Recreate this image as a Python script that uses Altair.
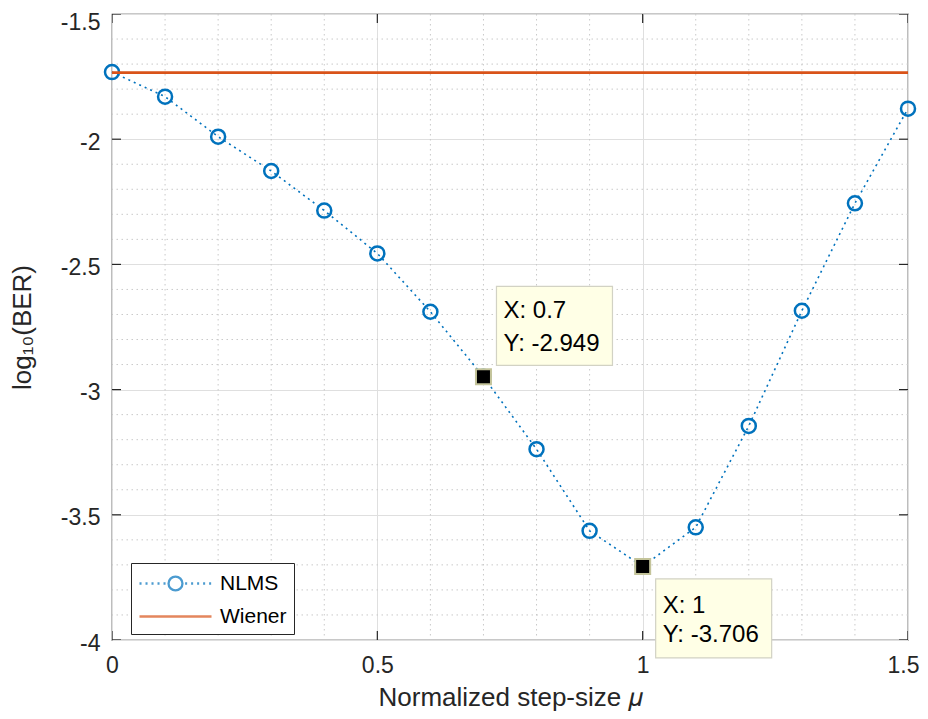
import altair as alt
import pandas as pd

# ---- data ----
mu = [0.0, 0.1, 0.2, 0.3, 0.4, 0.5, 0.6, 0.7, 0.8, 0.9, 1.0, 1.1, 1.2, 1.3, 1.4, 1.5]
nlms = [-1.732, -1.830, -1.990, -2.127, -2.285, -2.456, -2.689, -2.949,
        -3.238, -3.564, -3.706, -3.550, -3.145, -2.685, -2.256, -1.878]
wiener_x = [0.0, 1.5]
wiener_y = [-1.734, -1.734]
series_names = ["NLMS", "Wiener"]
series_colors = ["#0072BD", "#D95319"]

x_major = [0.0, 0.5, 1.0, 1.5]
y_major = [-1.5, -2.0, -2.5, -3.0, -3.5, -4.0]
x_minor = [0.1, 0.2, 0.3, 0.4, 0.6, 0.7, 0.8, 0.9, 1.1, 1.2, 1.3, 1.4]
y_minor = [-1.6, -1.7, -1.8, -1.9, -2.1, -2.2, -2.3, -2.4, -2.6, -2.7, -2.8, -2.9,
           -3.1, -3.2, -3.3, -3.4, -3.6, -3.7, -3.8, -3.9]

tip_x = [0.7, 1.0]
tip_y = [-2.949, -3.706]

FONT = "Liberation Sans"
X_DOM = [0, 1.5]
Y_DOM = [-4, -1.5]

nlms_df = pd.DataFrame({"x": mu, "y": nlms})
wiener_df = pd.DataFrame({"x": wiener_x, "y": wiener_y})
xminor_df = pd.DataFrame({"x": x_minor})
yminor_df = pd.DataFrame({"y": y_minor})
xt_df = pd.DataFrame({"x": x_major * 2, "y": [Y_DOM[0]] * 4 + [Y_DOM[1]] * 4})
yt_df = pd.DataFrame({"y": y_major * 2, "x": [X_DOM[0]] * 6 + [X_DOM[1]] * 6})
tips_df = pd.DataFrame({
    "x": tip_x, "y": tip_y,
    "lx": [f"X: {v:g}" for v in tip_x],
    "ly": [f"Y: {v:.3f}" for v in tip_y],
})
legend_df = pd.DataFrame({"series": series_names})

xs = alt.Scale(domain=X_DOM, nice=False, zero=False)
ys = alt.Scale(domain=Y_DOM, nice=False, zero=False)

X = alt.X("x:Q", scale=xs, title="Normalized step-size 𝜇",
          axis=alt.Axis(values=x_major, labelExpr="datum.value + ''", grid=True,
                        gridColor="#dfdfdf", gridWidth=1, ticks=False, domain=False,
                        labelFlush=False,
                        labelOffset=alt.condition("datum.value >= 1.5", alt.value(-5), alt.value(0)),
                        labelFont=FONT, labelFontSize=23, labelColor="#262626",
                        labelPadding=14, titleFont=FONT, titleFontSize=26,
                        titleFontWeight="normal", titleColor="#262626", titlePadding=7))
Y = alt.Y("y:Q", scale=ys, title="log₁₀(BER)",
          axis=alt.Axis(values=y_major, labelExpr="datum.value + ''", grid=True,
                        gridColor="#dfdfdf", gridWidth=1, ticks=False, domain=False,
                        labelFlush=False,
                        labelOffset=alt.condition("datum.value >= -1.5", alt.value(8), alt.value(3)),
                        labelFont=FONT, labelFontSize=23, labelColor="#262626",
                        labelPadding=12, titleFont=FONT, titleFontSize=26,
                        titleFontWeight="normal", titleColor="#262626", titlePadding=25))

base = alt.Chart(nlms_df)

minor_v = alt.Chart(xminor_df).mark_rule(color="#c9c9c9", strokeDash=[1.5, 3.5], strokeWidth=1).encode(
    x=alt.X("x:Q", scale=xs))
minor_h = alt.Chart(yminor_df).mark_rule(color="#c9c9c9", strokeDash=[1.5, 3.5], strokeWidth=1).encode(
    y=alt.Y("y:Q", scale=ys))

nlms_line = base.mark_line(color="#0072BD", strokeDash=[2, 4], strokeWidth=1.6).encode(x=X, y=Y)
nlms_pts = base.mark_point(shape="circle", filled=False, size=196, strokeWidth=2.5,
                           color="#0072BD", opacity=1).encode(x=X, y=Y)
wiener = alt.Chart(wiener_df).mark_line(color="#D95319", strokeWidth=2.6).encode(x=X, y=Y)

xticks = alt.Chart(xt_df).mark_tick(orient="vertical", size=18, thickness=1.2,
                                    color="#262626", clip=True, opacity=1).encode(
    x=alt.X("x:Q", scale=xs), y=alt.Y("y:Q", scale=ys))
yticks = alt.Chart(yt_df).mark_tick(orient="horizontal", size=18, thickness=1.2,
                                    color="#262626", clip=True, opacity=1).encode(
    x=alt.X("x:Q", scale=xs), y=alt.Y("y:Q", scale=ys))

tips = alt.Chart(tips_df)
tip_marker = tips.mark_point(shape="square", filled=True, fill="black", stroke="#c4c49a",
                             strokeWidth=2, size=225, opacity=1).encode(
    x=alt.X("x:Q", scale=xs), y=alt.Y("y:Q", scale=ys))

up = tips.transform_filter("datum.x < 0.85")
down = tips.transform_filter("datum.x > 0.85")
box_kw = dict(width=116, height=79, fill="#ffffe6", stroke="#d2d2c4", strokeWidth=1.2)
box_up = up.mark_rect(xOffset=71, yOffset=-51, **box_kw).encode(
    x=alt.X("x:Q", scale=xs), y=alt.Y("y:Q", scale=ys))
box_down = down.mark_rect(xOffset=71, yOffset=52, **box_kw).encode(
    x=alt.X("x:Q", scale=xs), y=alt.Y("y:Q", scale=ys))
txt_kw = dict(align="left", baseline="alphabetic", font=FONT, fontSize=24, color="black")
t1 = up.mark_text(dx=20, dy=-59, **txt_kw).encode(x=alt.X("x:Q", scale=xs), y=alt.Y("y:Q", scale=ys), text="lx:N")
t2 = up.mark_text(dx=20, dy=-26, **txt_kw).encode(x=alt.X("x:Q", scale=xs), y=alt.Y("y:Q", scale=ys), text="ly:N")
t3 = down.mark_text(dx=20, dy=47, **txt_kw).encode(x=alt.X("x:Q", scale=xs), y=alt.Y("y:Q", scale=ys), text="lx:N")
t4 = down.mark_text(dx=20, dy=76, **txt_kw).encode(x=alt.X("x:Q", scale=xs), y=alt.Y("y:Q", scale=ys), text="ly:N")

# legend symbols: custom paths (dotted line + circle, solid line)
dots_left = "".join(f"M{a:.2f},0L{a + 0.17:.2f},0" for a in [-1.0, -0.5, 0.0, 0.5, 1.0])
dots_right = "".join(f"M{a:.2f},0L{a + 0.17:.2f},0" for a in [2.8, 3.3, 3.8, 4.3, 4.8])
circle = "M2.58,0A0.58,0.58 0 1,1 1.42,0A0.58,0.58 0 1,1 2.58,0"
nlms_sym = dots_left + circle + dots_right
wiener_sym = "M-1,0L5,0"

legend_layer = alt.Chart(legend_df).mark_point(size=0, filled=False, strokeWidth=2).encode(
    color=alt.Color("series:N", scale=alt.Scale(domain=series_names, range=series_colors),
                    legend=alt.Legend(title=None, orient="none", legendX=19, legendY=549,
                                      labelFont=FONT, labelFontSize=21, labelColor="black",
                                      symbolSize=576, symbolStrokeWidth=2.3, labelOffset=55,
                                      rowPadding=7, padding=7, strokeColor="#262626",
                                      fillColor="white", symbolFillColor="transparent",
                                      labelLimit=300)),
    shape=alt.Shape("series:N", scale=alt.Scale(domain=series_names, range=[nlms_sym, wiener_sym]),
                    legend=None),
)

chart = alt.layer(
    minor_v, minor_h, nlms_line, nlms_pts, wiener, xticks, yticks,
    tip_marker, box_up, box_down, t1, t2, t3, t4, legend_layer
).properties(
    width=796, height=626,
    autosize=alt.AutoSizeParams(type="none"),
    padding={"left": 104, "top": 6, "right": 12, "bottom": 71},
).configure_view(stroke="#262626", strokeWidth=1.2)

chart.save("out.html", embed_options={"renderer": "svg", "actions": False})
